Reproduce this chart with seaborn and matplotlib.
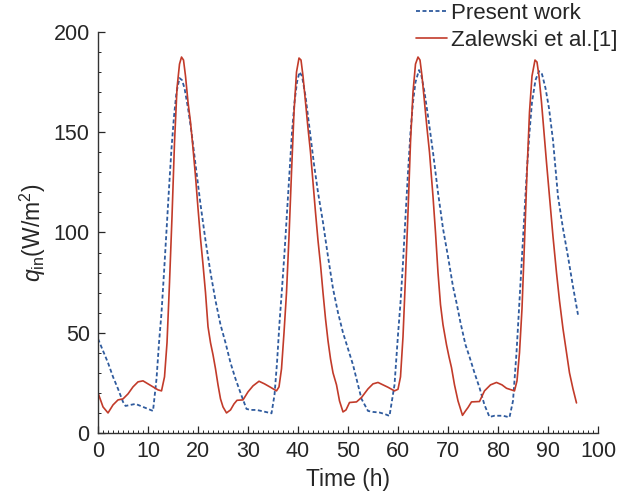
import matplotlib
matplotlib.use("Agg")
import matplotlib.pyplot as plt
from matplotlib.ticker import MultipleLocator
import seaborn as sns
import pandas as pd

# Present work (dotted blue)
t_present = [0, 1, 2, 3, 4, 5, 5.5, 6.5, 7.5, 9, 10, 11, 11.7, 12.2, 12.7, 13.2, 13.7,
             14.2, 14.7, 15.2, 15.7, 16.3, 16.8, 17.3, 18, 18.7, 19.5, 20.5, 21.5, 22.5,
             23.5, 24.5, 25.5, 26.5, 27.5, 28.5, 29.7, 30.5, 31.7, 33, 34.7, 35.3, 35.8,
             36.3, 36.8, 37.3, 37.8, 38.3, 38.8, 39.3, 39.8, 40.3, 40.8, 41.5, 42.3, 43.2,
             44, 45, 46, 47, 48, 49, 50, 51, 52, 52.7, 54, 55, 56.3, 57.3, 58.3, 59.3, 60,
             60.5, 61, 61.5, 62, 62.5, 63, 63.5, 64.2, 64.7, 65.3, 66, 67, 68, 69, 70, 71,
             71.7, 72.5, 73.5, 74.3, 75.3, 76.3, 77.3, 78.3, 79.3, 81, 82.3, 83, 83.7,
             84.3, 84.8, 85.3, 85.8, 86.3, 86.8, 87.5, 88.2, 88.8, 89.5, 90.2, 91, 92, 93,
             94, 95, 96]
q_present = [47, 41, 35, 28, 22, 15.5, 13.5, 14, 14.5, 13, 12, 11, 27, 45, 60, 80, 101,
             122, 142, 158, 170, 177, 176, 172, 162, 150, 134, 114, 96, 80,
             66, 54, 45, 35, 27, 20, 12, 11.5, 11.5, 10.8, 9.8, 19, 35,
             55, 72, 90, 110, 130, 150, 165, 175, 180, 178, 168, 152, 134,
             120, 105, 88, 72, 60, 50, 42, 34, 24, 17, 11, 10.5, 10.2, 9.5, 8.5, 24, 49,
             65, 85, 108, 130, 150, 165, 175, 181, 178, 170, 158, 140, 120, 102, 88, 73,
             65, 55, 44, 38, 30, 22.6, 14, 8, 8.6, 8.6, 7.8, 16, 40,
             66, 88, 110, 132, 150, 165, 176, 180.5, 179, 172, 162, 146, 118, 102,
             88, 73, 59]

# Zalewski et al.[1] (solid red)
t_zal = [0, 1, 2, 3, 4, 5, 6, 7, 8, 9, 10, 11, 12, 12.7, 13.3, 13.8, 14.3, 14.8, 15.3,
         15.8, 16.3, 16.7, 17.1, 17.5, 18, 18.5, 19, 19.5, 20, 20.5, 21, 21.5, 22, 22.5,
         23, 23.5, 24, 24.5, 25, 25.7, 26.5, 27.2, 27.8, 29, 30, 31, 32.2, 33.3, 34.5,
         35.7, 36.2, 36.7, 37.2, 37.7, 38.2, 38.7, 39.2, 39.7, 40.2, 40.6, 41, 41.5, 42,
         42.5, 43, 43.5, 44, 44.5, 45, 45.5, 46, 46.5, 47, 47.7, 48.3, 49, 49.6, 50.3,
         51.7, 52.7, 54, 55, 56, 57, 58, 59.3, 60, 60.5, 61, 61.5, 62, 62.5, 63, 63.5,
         64, 64.4, 64.8, 65.3, 65.8, 66.3, 67, 67.5, 68, 68.5, 69, 69.7, 70.2, 70.7,
         71.3, 72, 72.9, 73.5, 74, 74.7, 76.3, 77.3, 78.5, 79.7, 80.8, 81.7, 83.3, 83.8,
         84.3, 84.8, 85.3, 85.8, 86.3, 86.8, 87.4, 87.8, 88.2, 88.7, 89.2, 89.7, 90.3,
         91, 91.7, 92.3, 93, 93.7, 94.3, 95, 95.7]
q_zal = [20, 13, 10, 14, 16.5, 17, 19.5, 23, 25.5, 26, 24.5, 23, 21.5, 21, 28, 45, 75, 108,
         145, 172, 184, 187.5, 186, 178, 165, 155, 142, 128, 112, 97, 84, 70, 53, 45,
         39, 32, 24, 17, 13, 10, 11.5, 14.5, 16.3, 16.5, 20.5, 23.5, 25.8, 24.5, 22.8,
         21, 23, 32, 50, 70, 98, 130, 160, 180, 187, 186, 178, 165, 152,
         140, 125, 110, 96, 84, 70, 57, 46, 37, 30, 24, 16, 10.5, 11.5, 15.2,
         15.5, 17.7, 22, 24.5, 25.2, 24, 22.8, 21, 21.8, 28, 48, 78, 110, 145, 170, 184,
         187.5, 186, 178, 165, 152, 140, 118, 100, 80, 64, 54, 44, 38, 32.6,
         24, 16, 8.8, 11, 12.7, 15.5, 15.7, 21, 24, 25.2, 24, 22.3, 21, 26,
         40, 62, 95, 130, 160, 178, 186, 185, 178, 165, 150, 135, 118,
         98, 80, 66, 52, 40, 30, 22, 15]

df_present = pd.DataFrame({"t": t_present, "q": q_present})
df_zal = pd.DataFrame({"t": t_zal, "q": q_zal})

sns.set_style("ticks")
plt.rcParams["font.family"] = ["Liberation Sans", "DejaVu Sans"]
plt.rcParams["mathtext.fontset"] = "custom"
plt.rcParams["mathtext.rm"] = "Liberation Sans"
plt.rcParams["mathtext.it"] = "Liberation Sans:italic"

fig = plt.figure(figsize=(6.34, 4.99), dpi=100)
ax = fig.add_axes([0.1546, 0.1323, 0.7886, 0.8036])

sns.lineplot(data=df_present, x="t", y="q", ax=ax, color="#2f5b9e", lw=1.3,
             linestyle=(0, (2.2, 1.4)), estimator=None, label="Present work")
sns.lineplot(data=df_zal, x="t", y="q", ax=ax, color="#c23b2a", lw=1.2,
             estimator=None, label="Zalewski et al.[1]")

ax.set_xlim(0, 100)
ax.set_ylim(0, 200)
ax.xaxis.set_major_locator(MultipleLocator(10))
ax.xaxis.set_minor_locator(MultipleLocator(1))
ax.yaxis.set_major_locator(MultipleLocator(50))
ax.yaxis.set_minor_locator(MultipleLocator(10))
ax.tick_params(which="major", direction="in", length=5, width=0.9, labelsize=15.5, pad=6)
ax.tick_params(which="minor", direction="in", length=2.5, width=0.7)
sns.despine(ax=ax)
for s in ["left", "bottom"]:
    ax.spines[s].set_linewidth(1.0)
    ax.spines[s].set_color("#333333")

ax.set_xlabel("Time (h)", fontsize=16.5)
ax.set_ylabel(r"$q_{\mathrm{in}}$(W/m$^2$)", fontsize=16.5)
ax.xaxis.set_label_coords(0.5, -0.088)
ax.yaxis.set_label_coords(-0.1, 0.5)

ax.legend(loc="upper right", bbox_to_anchor=(1.04, 1.072), frameon=False,
          fontsize=16, handlelength=1.4, handletextpad=0.2, labelspacing=0.25,
          borderpad=0, borderaxespad=0)

fig.savefig("out.png", dpi=100)
